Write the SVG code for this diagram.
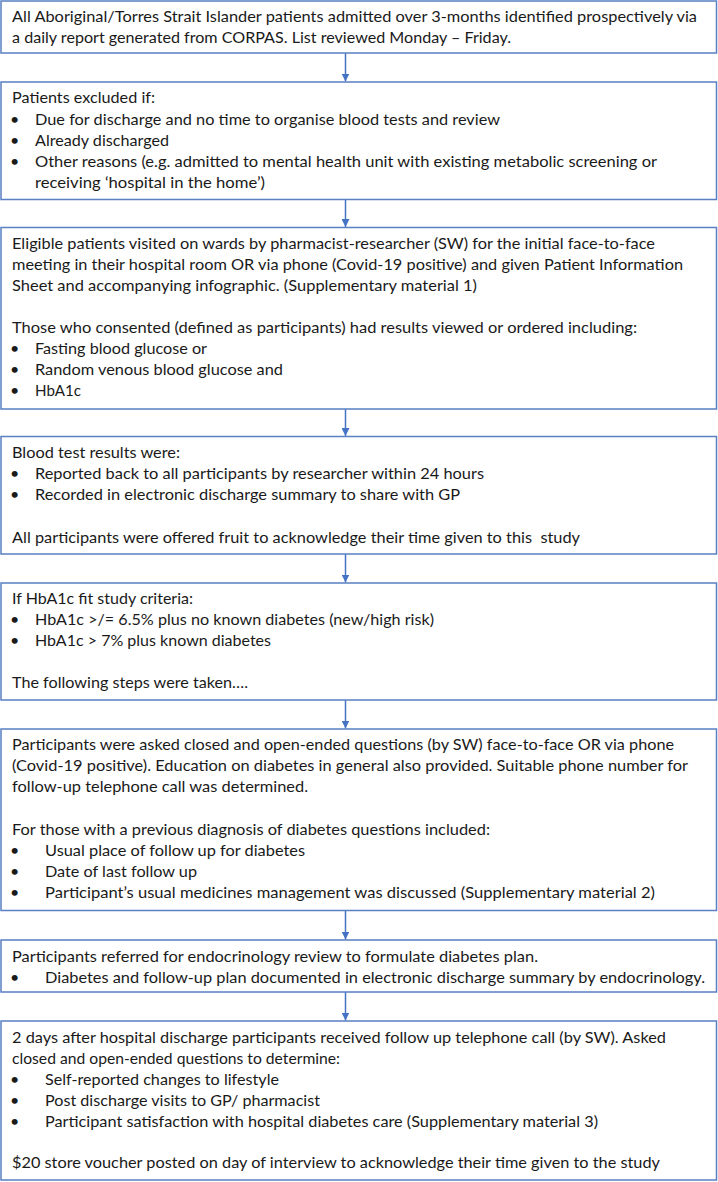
<svg xmlns="http://www.w3.org/2000/svg" width="718" height="1182" viewBox="0 0 718 1182">
<style>
.box{fill:#ffffff;stroke:#5a7fc2;stroke-width:1.5}
text{font-family:Lato,"Open Sans","Liberation Sans",sans-serif;font-size:16px;fill:#1a1a1a}
.arr{stroke:#4472c4;stroke-width:1.5;fill:none}
</style>
<defs>
<marker id="ah" viewBox="0 0 10 10" refX="10" refY="5" markerWidth="8" markerHeight="8" markerUnits="userSpaceOnUse" orient="auto">
<path d="M0,0 L10,5 L0,10 z" fill="#4472c4"/>
</marker>
</defs>
<rect width="718" height="1182" fill="#ffffff"/>
<g id="connectors">
<line class="arr" x1="345.5" y1="53" x2="345.5" y2="81.5" marker-end="url(#ah)"/>
<line class="arr" x1="345.5" y1="199.5" x2="345.5" y2="227" marker-end="url(#ah)"/>
<line class="arr" x1="345.5" y1="409" x2="345.5" y2="436" marker-end="url(#ah)"/>
<line class="arr" x1="345.5" y1="554" x2="345.5" y2="582.5" marker-end="url(#ah)"/>
<line class="arr" x1="345.5" y1="700" x2="345.5" y2="728.5" marker-end="url(#ah)"/>
<line class="arr" x1="345.5" y1="910.5" x2="345.5" y2="939.5" marker-end="url(#ah)"/>
<line class="arr" x1="345.5" y1="992" x2="345.5" y2="1020.5" marker-end="url(#ah)"/>
</g>
<g id="n1">
<rect class="box" x="1" y="1" width="715.5" height="52"/>
<text x="12" y="22" textLength="685" lengthAdjust="spacingAndGlyphs">All Aboriginal/Torres Strait Islander patients admitted over 3-months identified prospectively via</text>
<text x="12" y="43" textLength="499" lengthAdjust="spacingAndGlyphs">a daily report generated from CORPAS. List reviewed Monday – Friday.</text>
</g>
<g id="n2">
<rect class="box" x="1" y="82" width="715.5" height="117.5"/>
<text x="12" y="103" textLength="143" lengthAdjust="spacingAndGlyphs">Patients excluded if:</text>
<text x="10" y="124.5">•</text>
<text x="35" y="124.5" textLength="465" lengthAdjust="spacingAndGlyphs">Due for discharge and no time to organise blood tests and review</text>
<text x="10" y="145.5">•</text>
<text x="35" y="145.5" textLength="134" lengthAdjust="spacingAndGlyphs">Already discharged</text>
<text x="10" y="166.5">•</text>
<text x="35" y="166.5" textLength="622" lengthAdjust="spacingAndGlyphs">Other reasons (e.g. admitted to mental health unit with existing metabolic screening or</text>
<text x="35" y="187.5" textLength="230" lengthAdjust="spacingAndGlyphs">receiving ‘hospital in the home’)</text>
</g>
<g id="n3">
<rect class="box" x="1" y="227.5" width="715.5" height="181.5"/>
<text x="12" y="249" textLength="643" lengthAdjust="spacingAndGlyphs">Eligible patients visited on wards by pharmacist-researcher (SW) for the initial face-to-face</text>
<text x="12" y="270" textLength="671" lengthAdjust="spacingAndGlyphs">meeting in their hospital room OR via phone (Covid-19 positive) and given Patient Information</text>
<text x="12" y="291" textLength="465" lengthAdjust="spacingAndGlyphs">Sheet and accompanying infographic. (Supplementary material 1)</text>
<text x="12" y="333" textLength="625" lengthAdjust="spacingAndGlyphs">Those who consented (defined as participants) had results viewed or ordered including:</text>
<text x="10" y="354">•</text>
<text x="35" y="354" textLength="172" lengthAdjust="spacingAndGlyphs">Fasting blood glucose or</text>
<text x="10" y="375">•</text>
<text x="35" y="375" textLength="248" lengthAdjust="spacingAndGlyphs">Random venous blood glucose and</text>
<text x="10" y="396">•</text>
<text x="35" y="396" textLength="46" lengthAdjust="spacingAndGlyphs">HbA1c</text>
</g>
<g id="n4">
<rect class="box" x="1" y="436.5" width="715.5" height="117.5"/>
<text x="12" y="457.5" textLength="168" lengthAdjust="spacingAndGlyphs">Blood test results were:</text>
<text x="10" y="479">•</text>
<text x="35" y="479" textLength="449" lengthAdjust="spacingAndGlyphs">Reported back to all participants by researcher within 24 hours</text>
<text x="10" y="500">•</text>
<text x="35" y="500" textLength="425" lengthAdjust="spacingAndGlyphs">Recorded in electronic discharge summary to share with GP</text>
<text x="12" y="543" textLength="568" lengthAdjust="spacingAndGlyphs" style="white-space:pre">All participants were offered fruit to acknowledge their time given to this  study</text>
</g>
<g id="n5">
<rect class="box" x="1" y="583" width="715.5" height="117"/>
<text x="12" y="604" textLength="181" lengthAdjust="spacingAndGlyphs">If HbA1c fit study criteria:</text>
<text x="10" y="625">•</text>
<text x="35" y="625" textLength="399" lengthAdjust="spacingAndGlyphs">HbA1c &gt;/= 6.5% plus no known diabetes (new/high risk)</text>
<text x="10" y="646">•</text>
<text x="35" y="646" textLength="236" lengthAdjust="spacingAndGlyphs">HbA1c &gt; 7% plus known diabetes</text>
<text x="12" y="688" textLength="236" lengthAdjust="spacingAndGlyphs">The following steps were taken….</text>
</g>
<g id="n6">
<rect class="box" x="1" y="729" width="715.5" height="181.5"/>
<text x="12" y="750" textLength="662" lengthAdjust="spacingAndGlyphs">Participants were asked closed and open-ended questions (by SW) face-to-face OR via phone</text>
<text x="12" y="771" textLength="676" lengthAdjust="spacingAndGlyphs">(Covid-19 positive). Education on diabetes in general also provided. Suitable phone number for</text>
<text x="12" y="792" textLength="296" lengthAdjust="spacingAndGlyphs">follow-up telephone call was determined.</text>
<text x="12" y="835" textLength="478" lengthAdjust="spacingAndGlyphs">For those with a previous diagnosis of diabetes questions included:</text>
<text x="10" y="856">•</text>
<text x="45" y="856" textLength="260" lengthAdjust="spacingAndGlyphs">Usual place of follow up for diabetes</text>
<text x="10" y="877">•</text>
<text x="45" y="877" textLength="152" lengthAdjust="spacingAndGlyphs">Date of last follow up</text>
<text x="10" y="898">•</text>
<text x="45" y="898" textLength="610" lengthAdjust="spacingAndGlyphs">Participant’s usual medicines management was discussed (Supplementary material 2)</text>
</g>
<g id="n7">
<rect class="box" x="1" y="940" width="715.5" height="52"/>
<text x="12" y="961.5" textLength="526" lengthAdjust="spacingAndGlyphs">Participants referred for endocrinology review to formulate diabetes plan.</text>
<text x="10" y="983">•</text>
<text x="45" y="983" textLength="660" lengthAdjust="spacingAndGlyphs">Diabetes and follow-up plan documented in electronic discharge summary by endocrinology.</text>
</g>
<g id="n8">
<rect class="box" x="1" y="1021" width="715.5" height="159"/>
<text x="12" y="1043" textLength="654" lengthAdjust="spacingAndGlyphs">2 days after hospital discharge participants received follow up telephone call (by SW). Asked</text>
<text x="12" y="1064" textLength="328" lengthAdjust="spacingAndGlyphs">closed and open-ended questions to determine:</text>
<text x="10" y="1085">•</text>
<text x="45" y="1085" textLength="234" lengthAdjust="spacingAndGlyphs">Self-reported changes to lifestyle</text>
<text x="10" y="1106">•</text>
<text x="45" y="1106" textLength="275" lengthAdjust="spacingAndGlyphs">Post discharge visits to GP/ pharmacist</text>
<text x="10" y="1127">•</text>
<text x="45" y="1127" textLength="553" lengthAdjust="spacingAndGlyphs">Participant satisfaction with hospital diabetes care (Supplementary material 3)</text>
<text x="12" y="1168" textLength="648" lengthAdjust="spacingAndGlyphs">$20 store voucher posted on day of interview to acknowledge their time given to the study</text>
</g>
</svg>
